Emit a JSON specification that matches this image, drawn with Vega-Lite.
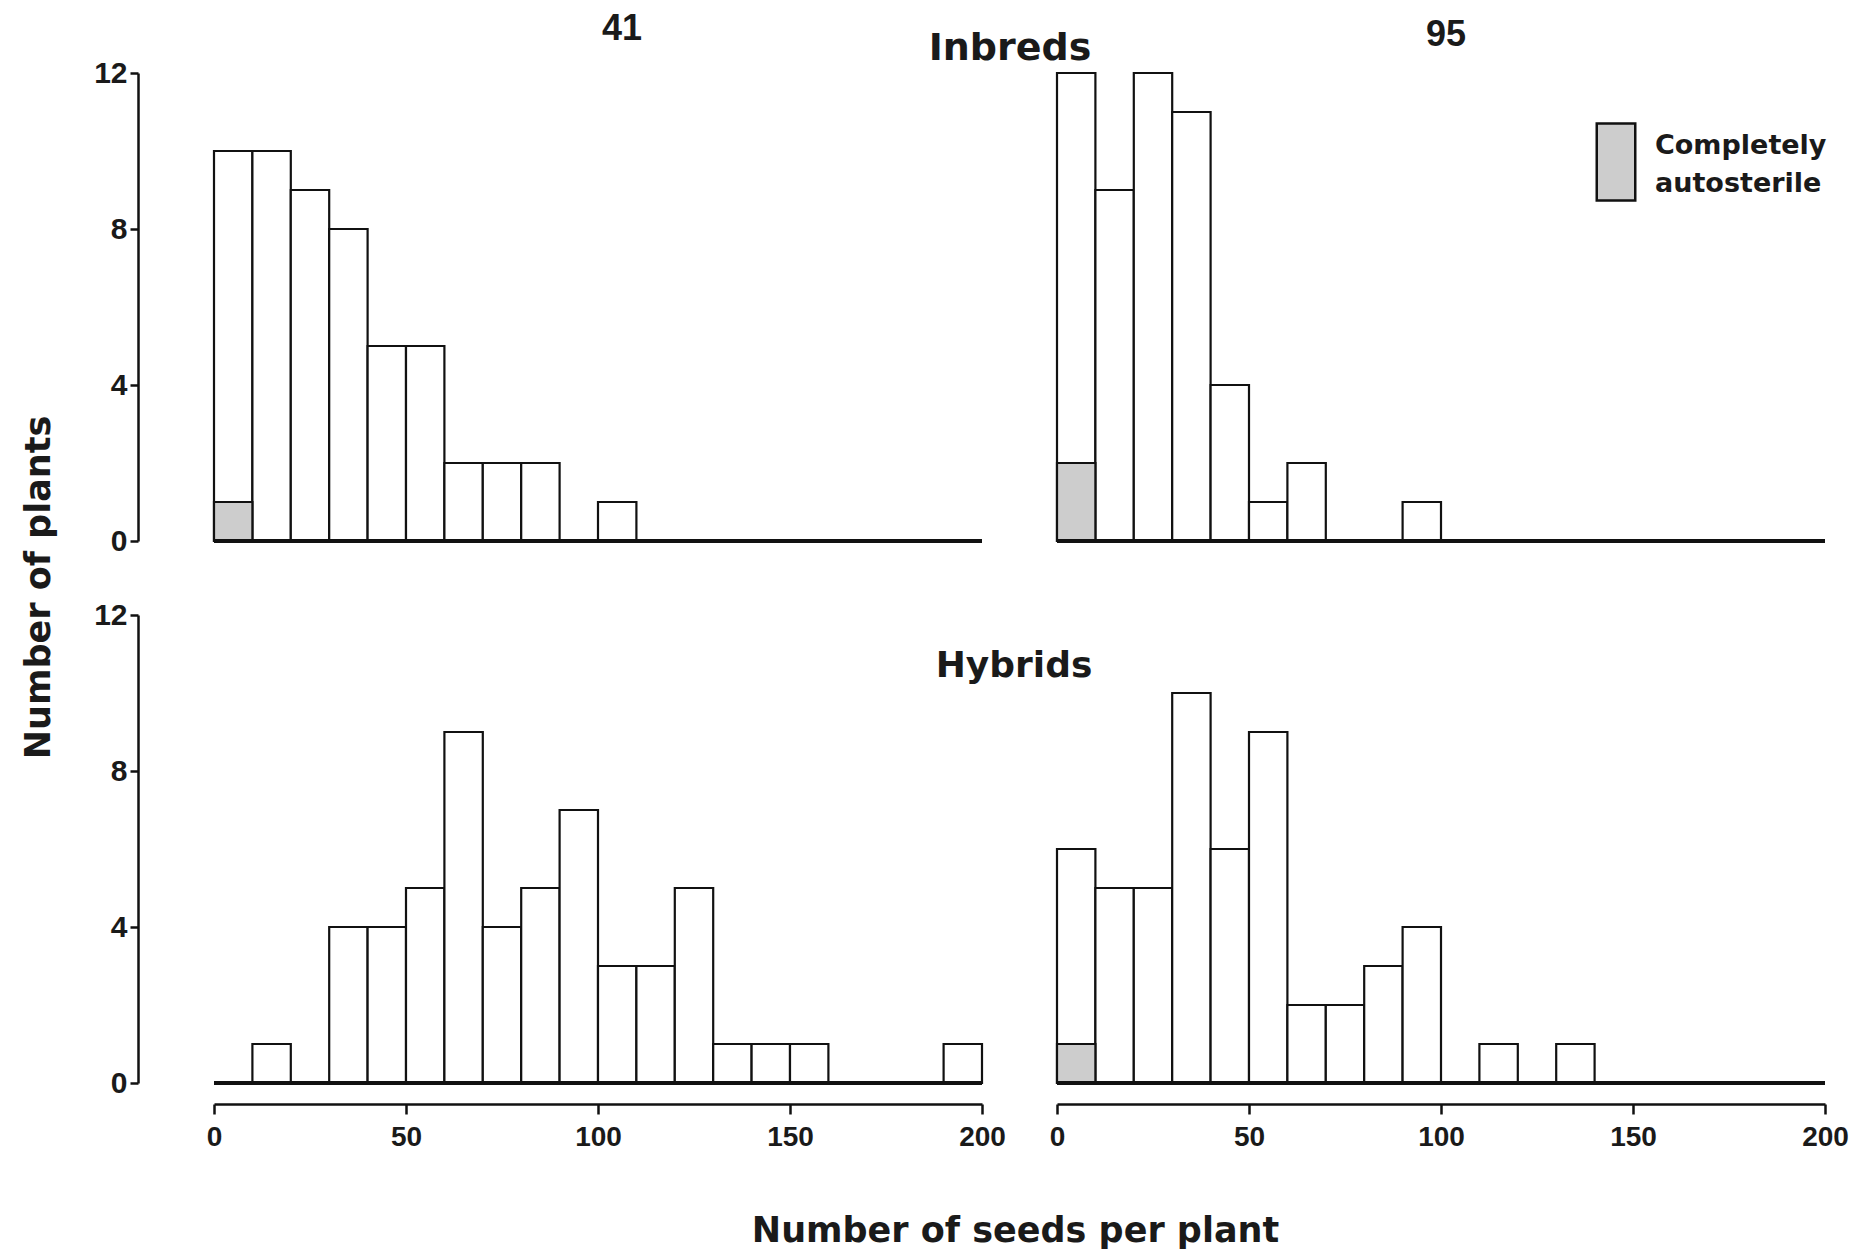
{
  "$schema": "https://vega.github.io/schema/vega-lite/v6.json",
  "background": "white",
  "padding": {"left": 21, "top": 11, "right": 5, "bottom": 5},
  "title": {"text": "Inbreds", "font": "DejaVu Sans", "fontWeight": "bold", "fontSize": 38, "color": "#1a1a1a", "anchor": "start", "align": "center", "frame": "group", "dx": 796, "dy": 48, "offset": -39, "baseline": "alphabetic"},
  "datasets": {
    "bins": [
      {"line": "41", "group": "Inbreds", "start": 0, "end": 10, "count": 10},
      {"line": "41", "group": "Inbreds", "start": 10, "end": 20, "count": 10},
      {"line": "41", "group": "Inbreds", "start": 20, "end": 30, "count": 9},
      {"line": "41", "group": "Inbreds", "start": 30, "end": 40, "count": 8},
      {"line": "41", "group": "Inbreds", "start": 40, "end": 50, "count": 5},
      {"line": "41", "group": "Inbreds", "start": 50, "end": 60, "count": 5},
      {"line": "41", "group": "Inbreds", "start": 60, "end": 70, "count": 2},
      {"line": "41", "group": "Inbreds", "start": 70, "end": 80, "count": 2},
      {"line": "41", "group": "Inbreds", "start": 80, "end": 90, "count": 2},
      {"line": "41", "group": "Inbreds", "start": 100, "end": 110, "count": 1},
      {"line": "95", "group": "Inbreds", "start": 0, "end": 10, "count": 12},
      {"line": "95", "group": "Inbreds", "start": 10, "end": 20, "count": 9},
      {"line": "95", "group": "Inbreds", "start": 20, "end": 30, "count": 12},
      {"line": "95", "group": "Inbreds", "start": 30, "end": 40, "count": 11},
      {"line": "95", "group": "Inbreds", "start": 40, "end": 50, "count": 4},
      {"line": "95", "group": "Inbreds", "start": 50, "end": 60, "count": 1},
      {"line": "95", "group": "Inbreds", "start": 60, "end": 70, "count": 2},
      {"line": "95", "group": "Inbreds", "start": 90, "end": 100, "count": 1},
      {"line": "41", "group": "Hybrids", "start": 10, "end": 20, "count": 1},
      {"line": "41", "group": "Hybrids", "start": 30, "end": 40, "count": 4},
      {"line": "41", "group": "Hybrids", "start": 40, "end": 50, "count": 4},
      {"line": "41", "group": "Hybrids", "start": 50, "end": 60, "count": 5},
      {"line": "41", "group": "Hybrids", "start": 60, "end": 70, "count": 9},
      {"line": "41", "group": "Hybrids", "start": 70, "end": 80, "count": 4},
      {"line": "41", "group": "Hybrids", "start": 80, "end": 90, "count": 5},
      {"line": "41", "group": "Hybrids", "start": 90, "end": 100, "count": 7},
      {"line": "41", "group": "Hybrids", "start": 100, "end": 110, "count": 3},
      {"line": "41", "group": "Hybrids", "start": 110, "end": 120, "count": 3},
      {"line": "41", "group": "Hybrids", "start": 120, "end": 130, "count": 5},
      {"line": "41", "group": "Hybrids", "start": 130, "end": 140, "count": 1},
      {"line": "41", "group": "Hybrids", "start": 140, "end": 150, "count": 1},
      {"line": "41", "group": "Hybrids", "start": 150, "end": 160, "count": 1},
      {"line": "41", "group": "Hybrids", "start": 190, "end": 200, "count": 1},
      {"line": "95", "group": "Hybrids", "start": 0, "end": 10, "count": 6},
      {"line": "95", "group": "Hybrids", "start": 10, "end": 20, "count": 5},
      {"line": "95", "group": "Hybrids", "start": 20, "end": 30, "count": 5},
      {"line": "95", "group": "Hybrids", "start": 30, "end": 40, "count": 10},
      {"line": "95", "group": "Hybrids", "start": 40, "end": 50, "count": 6},
      {"line": "95", "group": "Hybrids", "start": 50, "end": 60, "count": 9},
      {"line": "95", "group": "Hybrids", "start": 60, "end": 70, "count": 2},
      {"line": "95", "group": "Hybrids", "start": 70, "end": 80, "count": 2},
      {"line": "95", "group": "Hybrids", "start": 80, "end": 90, "count": 3},
      {"line": "95", "group": "Hybrids", "start": 90, "end": 100, "count": 4},
      {"line": "95", "group": "Hybrids", "start": 110, "end": 120, "count": 1},
      {"line": "95", "group": "Hybrids", "start": 130, "end": 140, "count": 1}
    ],
    "sterile": [
      {"line": "41", "group": "Inbreds", "start": 0, "end": 10, "count": 1, "type": "Completely autosterile"},
      {"line": "95", "group": "Inbreds", "start": 0, "end": 10, "count": 2, "type": "Completely autosterile"},
      {"line": "95", "group": "Hybrids", "start": 0, "end": 10, "count": 1, "type": "Completely autosterile"}
    ],
    "base": [{"from": 0, "to": 200, "level": 0}]
  },
  "bounds": "flush",
  "columns": 2,
  "spacing": {"row": 74, "column": 75},
  "concat": [
    {
      "width": 768, "height": 468,
      "title": {"text": "41", "font": "Liberation Sans", "fontWeight": "bold", "fontSize": 36, "color": "#1a1a1a", "anchor": "middle", "frame": "group", "dx": 24, "offset": -18, "baseline": "alphabetic"},
      "layer": [
        {
          "data": {"name": "bins"},
          "transform": [{"filter": "datum.line === '41' && datum.group === 'Inbreds'"}],
          "mark": {"type": "bar", "fill": "white", "stroke": "#111", "strokeWidth": 2.2},
          "encoding": {
            "x": {"field": "start", "type": "quantitative", "scale": {"domain": [0, 200], "nice": false}, "axis": null},
            "x2": {"field": "end"},
            "y": {"field": "count", "type": "quantitative", "scale": {"domain": [0, 12], "nice": false},
              "axis": {"offset": 76, "values": [0, 4, 8, 12], "tickSize": 8, "tickWidth": 2.5, "domainWidth": 2.5, "labelFlush": false,
                "labelFont": "Liberation Sans", "labelFontWeight": "bold", "labelFontSize": 30, "labelPadding": 3,
                "title": "Number of plants", "titleFont": "DejaVu Sans", "titleFontWeight": "bold", "titleFontSize": 35,
                "titleAngle": -90, "titleBaseline": "alphabetic", "titleAlign": "center", "titleX": -89, "titleY": 514}},
            "y2": {"datum": 0}
          }
        },
        {
          "data": {"name": "sterile"},
          "transform": [{"filter": "datum.line === '41' && datum.group === 'Inbreds'"}],
          "mark": {"type": "bar", "stroke": "#111", "strokeWidth": 2.2},
          "encoding": {
            "x": {"field": "start", "type": "quantitative"},
            "x2": {"field": "end"},
            "y": {"field": "count", "type": "quantitative"},
            "y2": {"datum": 0},
            "fill": {"field": "type", "type": "nominal", "scale": {"domain": ["Completely autosterile"], "range": ["#cdcdcd"]},
              "legend": {"orient": "none", "legendX": 1362, "legendY": 49, "title": null, "symbolType": "M-0.5,-1H0.5V1H-0.5Z", "symbolSize": 5929,
                "symbolStrokeColor": "#111", "symbolStrokeWidth": 2.5, "labelFont": "DejaVu Sans", "labelFontWeight": "bold", "labelFontSize": 27,
                "labelColor": "#1a1a1a", "labelOffset": -1, "labelLimit": 400, "padding": 0, "labelExpr": "['Completely', 'autosterile']",
                "encode": {"labels": {"update": {"lineHeight": {"value": 38}, "dy": {"value": -16}}}}}}
          }
        },
        {
          "data": {"name": "base"},
          "mark": {"type": "rule", "stroke": "#111", "strokeWidth": 4},
          "encoding": {"x": {"field": "from", "type": "quantitative"}, "x2": {"field": "to"}, "y": {"field": "level", "type": "quantitative"}}
        }
      ]
    },
    {
      "width": 768, "height": 468,
      "title": {"text": "95", "font": "Liberation Sans", "fontWeight": "bold", "fontSize": 36, "color": "#1a1a1a", "anchor": "middle", "frame": "group", "dx": 5, "offset": -10, "baseline": "alphabetic"},
      "layer": [
        {
          "data": {"name": "bins"},
          "transform": [{"filter": "datum.line === '95' && datum.group === 'Inbreds'"}],
          "mark": {"type": "bar", "fill": "white", "stroke": "#111", "strokeWidth": 2.2},
          "encoding": {
            "x": {"field": "start", "type": "quantitative", "scale": {"domain": [0, 200], "nice": false}, "axis": null},
            "x2": {"field": "end"},
            "y": {"field": "count", "type": "quantitative", "scale": {"domain": [0, 12], "nice": false}, "axis": null},
            "y2": {"datum": 0}
          }
        },
        {
          "data": {"name": "sterile"},
          "transform": [{"filter": "datum.line === '95' && datum.group === 'Inbreds'"}],
          "mark": {"type": "bar", "stroke": "#111", "strokeWidth": 2.2},
          "encoding": {
            "x": {"field": "start", "type": "quantitative"},
            "x2": {"field": "end"},
            "y": {"field": "count", "type": "quantitative"},
            "y2": {"datum": 0},
            "fill": {"field": "type", "type": "nominal", "scale": {"domain": ["Completely autosterile"], "range": ["#cdcdcd"]},
              "legend": {"orient": "none", "legendX": 1362, "legendY": 49, "title": null, "symbolType": "M-0.5,-1H0.5V1H-0.5Z", "symbolSize": 5929,
                "symbolStrokeColor": "#111", "symbolStrokeWidth": 2.5, "labelFont": "DejaVu Sans", "labelFontWeight": "bold", "labelFontSize": 27,
                "labelColor": "#1a1a1a", "labelOffset": -1, "labelLimit": 400, "padding": 0, "labelExpr": "['Completely', 'autosterile']",
                "encode": {"labels": {"update": {"lineHeight": {"value": 38}, "dy": {"value": -16}}}}}}
          }
        },
        {
          "data": {"name": "base"},
          "mark": {"type": "rule", "stroke": "#111", "strokeWidth": 4},
          "encoding": {"x": {"field": "from", "type": "quantitative"}, "x2": {"field": "to"}, "y": {"field": "level", "type": "quantitative"}}
        }
      ]
    },
    {
      "width": 768, "height": 468,
      "title": {"text": "Hybrids", "font": "DejaVu Sans", "fontWeight": "bold", "fontSize": 36, "color": "#1a1a1a", "anchor": "start", "align": "center", "frame": "group", "dx": 800, "dy": 113, "offset": 0, "baseline": "alphabetic"},
      "layer": [
        {
          "data": {"name": "bins"},
          "transform": [{"filter": "datum.line === '41' && datum.group === 'Hybrids'"}],
          "mark": {"type": "bar", "fill": "white", "stroke": "#111", "strokeWidth": 2.2},
          "encoding": {
            "x": {"field": "start", "type": "quantitative", "scale": {"domain": [0, 200], "nice": false},
              "axis": {"offset": 21, "values": [0, 50, 100, 150, 200], "tickSize": 10, "tickWidth": 2.5, "domainWidth": 2.5, "labelFlush": false,
                "labelFont": "Liberation Sans", "labelFontWeight": "bold", "labelFontSize": 28, "labelPadding": 9,
                "title": "Number of seeds per plant", "titleFont": "DejaVu Sans", "titleFontWeight": "bold", "titleFontSize": 35,
                "titleBaseline": "alphabetic", "titleAlign": "center", "titleX": 801, "titleY": 137}},
            "x2": {"field": "end"},
            "y": {"field": "count", "type": "quantitative", "scale": {"domain": [0, 12], "nice": false},
              "axis": {"offset": 76, "values": [0, 4, 8, 12], "tickSize": 8, "tickWidth": 2.5, "domainWidth": 2.5, "labelFlush": false,
                "labelFont": "Liberation Sans", "labelFontWeight": "bold", "labelFontSize": 30, "labelPadding": 3, "title": null}},
            "y2": {"datum": 0}
          }
        },
        {
          "data": {"name": "base"},
          "mark": {"type": "rule", "stroke": "#111", "strokeWidth": 4},
          "encoding": {"x": {"field": "from", "type": "quantitative"}, "x2": {"field": "to"}, "y": {"field": "level", "type": "quantitative"}}
        }
      ]
    },
    {
      "width": 768, "height": 468,
      "layer": [
        {
          "data": {"name": "bins"},
          "transform": [{"filter": "datum.line === '95' && datum.group === 'Hybrids'"}],
          "mark": {"type": "bar", "fill": "white", "stroke": "#111", "strokeWidth": 2.2},
          "encoding": {
            "x": {"field": "start", "type": "quantitative", "scale": {"domain": [0, 200], "nice": false},
              "axis": {"offset": 21, "values": [0, 50, 100, 150, 200], "tickSize": 10, "tickWidth": 2.5, "domainWidth": 2.5, "labelFlush": false,
                "labelFont": "Liberation Sans", "labelFontWeight": "bold", "labelFontSize": 28, "labelPadding": 9, "title": null}},
            "x2": {"field": "end"},
            "y": {"field": "count", "type": "quantitative", "scale": {"domain": [0, 12], "nice": false}, "axis": null},
            "y2": {"datum": 0}
          }
        },
        {
          "data": {"name": "sterile"},
          "transform": [{"filter": "datum.line === '95' && datum.group === 'Hybrids'"}],
          "mark": {"type": "bar", "stroke": "#111", "strokeWidth": 2.2},
          "encoding": {
            "x": {"field": "start", "type": "quantitative"},
            "x2": {"field": "end"},
            "y": {"field": "count", "type": "quantitative"},
            "y2": {"datum": 0},
            "fill": {"field": "type", "type": "nominal", "scale": {"domain": ["Completely autosterile"], "range": ["#cdcdcd"]},
              "legend": {"orient": "none", "legendX": 1362, "legendY": 49, "title": null, "symbolType": "M-0.5,-1H0.5V1H-0.5Z", "symbolSize": 5929,
                "symbolStrokeColor": "#111", "symbolStrokeWidth": 2.5, "labelFont": "DejaVu Sans", "labelFontWeight": "bold", "labelFontSize": 27,
                "labelColor": "#1a1a1a", "labelOffset": -1, "labelLimit": 400, "padding": 0, "labelExpr": "['Completely', 'autosterile']",
                "encode": {"labels": {"update": {"lineHeight": {"value": 38}, "dy": {"value": -16}}}}}}
          }
        },
        {
          "data": {"name": "base"},
          "mark": {"type": "rule", "stroke": "#111", "strokeWidth": 4},
          "encoding": {"x": {"field": "from", "type": "quantitative"}, "x2": {"field": "to"}, "y": {"field": "level", "type": "quantitative"}}
        }
      ]
    }
  ],
  "config": {
    "view": {"stroke": null},
    "axis": {"grid": false, "domainColor": "#111", "tickColor": "#111", "labelColor": "#1a1a1a", "titleColor": "#1a1a1a"}
  }
}
